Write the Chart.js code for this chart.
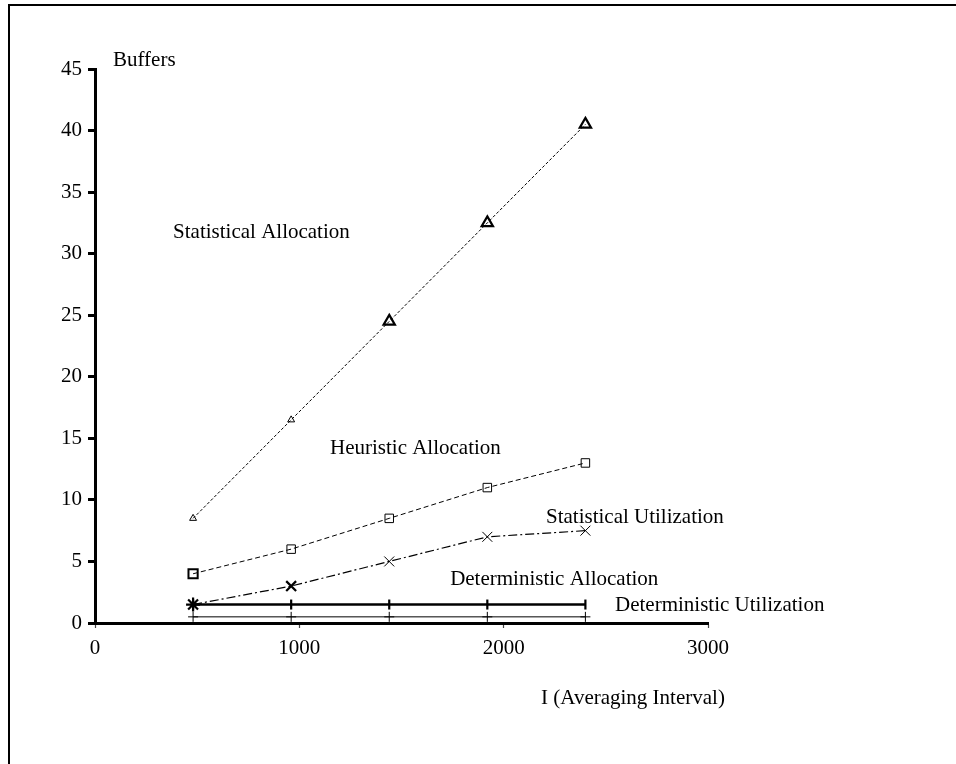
<!DOCTYPE html>
<html>
<head>
<meta charset="utf-8">
<script src="https://cdn.jsdelivr.net/npm/chart.js@4"></script>
<style>
  body { margin: 0; background: #fff; }
  #frame { position: absolute; left: 8px; top: 4px; width: 960px; height: 770px;
           border-left: 2px solid #000; border-top: 2px solid #000; }
  #wrap { position: absolute; left: 0; top: 0; width: 956px; height: 764px; }
</style>
</head>
<body>
<div id="frame"></div>
<div id="wrap"><canvas id="bufferChart" width="956" height="764"></canvas></div>
<script>
// averaging interval I (x axis)
var intervals = [480, 960, 1440, 1920, 2400];

// buffers per scheme
var statAlloc = [8.5, 16.5, 24.5, 32.5, 40.5];
var heurAlloc = [4, 6, 8.5, 11, 13];
var statUtil = [1.5, 3, 5, 7, 7.5];
var detAlloc = [1.5, 1.5, 1.5, 1.5, 1.5];
var detUtil = [0.5, 0.5, 0.5, 0.5, 0.5];

// curve captions, placed in data coordinates
var notes = [
    { text: 'Buffers', x: 88, y: 45.73 },
    { text: 'Statistical Allocation', x: 382, y: 31.76 },
    { text: 'Heuristic Allocation', x: 1150, y: 14.21 },
    { text: 'Statistical Utilization', x: 2207, y: 8.61 },
    { text: 'Deterministic Allocation', x: 1738, y: 3.57 },
    { text: 'Deterministic Utilization', x: 2545, y: 1.46 },
    { text: 'I (Averaging Interval)', x: 2183, y: -6.17 }
];

var serif = '"Liberation Serif", "Times New Roman", serif';

function pts(ys) {
    return intervals.map(function (x, i) { return { x: x, y: ys[i] }; });
}

var captionPlugin = {
    id: 'captions',
    afterDraw: function (chart) {
        var ctx = chart.ctx;
        var xs = chart.scales.x, ys = chart.scales.y;
        ctx.save();
        ctx.fillStyle = '#000';
        ctx.font = '21px ' + serif;
        ctx.textAlign = 'left';
        ctx.textBaseline = 'middle';
        notes.forEach(function (n) {
            ctx.fillText(n.text, xs.getPixelForValue(n.x), ys.getPixelForValue(n.y));
        });
        ctx.restore();
    }
};

var ctx = document.getElementById('bufferChart');
var bufferChart = new Chart(ctx, {
    type: 'scatter',
    data: {
        datasets: [
            {
                label: 'Statistical Allocation',
                data: pts(statAlloc),
                showLine: true,
                borderColor: '#000',
                borderWidth: 1,
                borderDash: [3, 2],
                pointStyle: 'triangle',
                pointRadius: [4, 4, 6.5, 6.5, 6.5],
                pointBorderWidth: [1, 1, 2.2, 2.2, 2.2],
                pointBorderColor: '#000',
                pointBackgroundColor: 'rgba(0,0,0,0)'
            },
            {
                label: 'Heuristic Allocation',
                data: pts(heurAlloc),
                showLine: true,
                borderColor: '#000',
                borderWidth: 1,
                borderDash: [5, 3],
                pointStyle: 'rect',
                pointRadius: [6.5, 6, 6, 6, 6],
                pointBorderWidth: [2, 1, 1, 1, 1],
                pointBorderColor: '#000',
                pointBackgroundColor: 'rgba(0,0,0,0)'
            },
            {
                label: 'Statistical Utilization',
                data: pts(statUtil),
                showLine: true,
                borderColor: '#000',
                borderWidth: 1.2,
                borderDash: [9, 3, 2, 3],
                pointStyle: ['star', 'crossRot', 'crossRot', 'crossRot', 'crossRot'],
                pointRadius: 7,
                pointBorderWidth: [2.2, 2.2, 1, 1, 1],
                pointBorderColor: '#000',
                pointBackgroundColor: 'rgba(0,0,0,0)'
            },
            {
                label: 'Deterministic Allocation',
                data: pts(detAlloc),
                showLine: true,
                borderColor: '#000',
                borderWidth: 2.5,
                pointStyle: 'line',
                pointRotation: 90,
                pointRadius: 5,
                pointBorderWidth: 2.2,
                pointBorderColor: '#000'
            },
            {
                label: 'Deterministic Utilization',
                data: pts(detUtil),
                showLine: true,
                borderColor: '#000',
                borderWidth: 1,
                pointStyle: 'cross',
                pointRadius: 5,
                pointBorderWidth: 1,
                pointBorderColor: '#000'
            }
        ]
    },
    options: {
        responsive: false,
        animation: false,
        clip: false,
        layout: { padding: { top: 69, right: 248, left: 0, bottom: 0 } },
        plugins: {
            legend: { display: false },
            tooltip: { enabled: false }
        },
        scales: {
            x: {
                type: 'linear',
                min: 0,
                max: 3000,
                ticks: {
                    stepSize: 1000, color: '#000', padding: 8,
                    font: { family: serif, size: 21 },
                    callback: function (v) { return String(v); }
                },
                border: { display: true, color: '#000', width: 3 },
                grid: { drawOnChartArea: false, tickLength: 5, tickWidth: 1.2, tickColor: '#444' },
                afterFit: function (s) { s.height = 141; }
            },
            y: {
                min: 0,
                max: 45,
                ticks: {
                    stepSize: 5, color: '#000', padding: 6,
                    font: { family: serif, size: 21 },
                    callback: function (v) { return String(v); }
                },
                border: { display: true, color: '#000', width: 3 },
                grid: { drawOnChartArea: false, tickLength: 7, tickWidth: 3, tickColor: '#000' },
                afterFit: function (s) { s.width = 95; }
            }
        }
    },
    plugins: [captionPlugin]
});
</script>
</body>
</html>
